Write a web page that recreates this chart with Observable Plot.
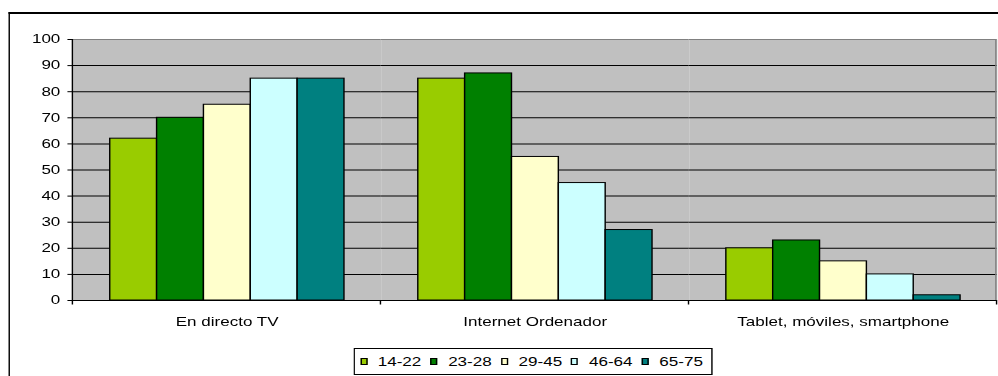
<!DOCTYPE html>
<html lang="es">
<head>
<meta charset="utf-8">
<script src="https://cdn.jsdelivr.net/npm/d3@7"></script>
<script src="https://cdn.jsdelivr.net/npm/@observablehq/plot@0.6"></script>
<style>
  html, body { margin: 0; padding: 0; background: #fff; overflow: hidden; }
  /* the whole chart is laid out narrow and widened horizontally */
  #stage {
    position: relative; width: 703px; height: 376px;
    transform: scaleX(1.4196); transform-origin: 0 0;
    font-family: "Liberation Sans", Arial, sans-serif;
  }
  #outer {
    position: absolute; left: 6.3px; top: 12px; width: 760px; height: 420px;
    border-left: 1.4px solid #000; border-top: 2px solid #000;
  }
  #chart { position: absolute; left: 0; top: 0; }
  #legend {
    position: absolute; left: 249.4px; top: 348px; height: 27px; box-sizing: border-box;
    border: 1px solid #000; background: #fff; display: flex; align-items: center;
    padding: 0 6px 0 3.2px; font-size: 12px; color: #000;
  }
  .item { display: flex; align-items: center; }
  .swatch { width: 5px; height: 7px; box-sizing: border-box; border: 1px solid #000; margin-right: 7.5px; }
  .label { margin-right: 6.4px; }
  .item:last-child .label { margin-right: 0; }
</style>
</head>
<body>
<div id="stage">
  <div id="outer"></div>
  <div id="chart"></div>
  <div id="legend"></div>
</div>
<script>
const categories = ["En directo TV", "Internet Ordenador", "Tablet, móviles, smartphone"];
const ageGroups = ["14-22", "23-28", "29-45", "46-64", "65-75"];
const tvValues = [62, 70, 75, 85, 85];
const internetValues = [85, 87, 55, 45, 27];
const tabletValues = [20, 23, 15, 10, 2];
const ageColors = ["#99CC00", "#008000", "#FFFFCC", "#CCFFFF", "#008080"];
const yTicks = [0, 10, 20, 30, 40, 50, 60, 70, 80, 90, 100];

const valuesByCategory = [tvValues, internetValues, tabletValues];
const rows = categories.flatMap((category, i) =>
  ageGroups.map((age, j) => ({category, age, value: valuesByCategory[i][j]}))
);

const chart = Plot.plot({
  width: 703,
  height: 376,
  marginLeft: 50.7,
  marginRight: 0.7,
  marginTop: 39,
  marginBottom: 76,
  style: {background: "none", fontFamily: "'Liberation Sans', Arial, sans-serif", fontSize: "12px", color: "#000", overflow: "visible"},
  fx: {domain: categories, padding: 0, axis: "bottom", tickSize: 0, tickPadding: 17, label: null},
  x: {domain: ageGroups, paddingInner: 0, paddingOuter: 0.75, axis: null},
  y: {domain: [0, 100], ticks: yTicks, tickSize: 3.5, tickPadding: 5.5, label: null, tickFormat: d3.format("d")},
  color: {domain: ageGroups, range: ageColors},
  marks: [
    Plot.frame({fill: "#C0C0C0", stroke: "none"}),
    Plot.ruleY(yTicks.filter(t => t > 0 && t < 100), {stroke: "#000", strokeWidth: 1}),
    Plot.ruleY([100], {stroke: "#808080", strokeWidth: 1}),
    Plot.barY(rows, {fx: "category", x: "age", y: "value", fill: "age", stroke: "#000", strokeWidth: 1}),
    Plot.ruleY([0], {stroke: "#000", strokeWidth: 1})
  ]
});
document.getElementById("chart").appendChild(chart);

// axis line, right border and category separators, placed from the plot's scales
const fx = chart.scale("fx");
const y = chart.scale("y");
const y0 = y.apply(0), yTop = y.apply(100);
const edges = [...fx.domain.map(c => fx.apply(c)), fx.apply(fx.domain[fx.domain.length - 1]) + fx.bandwidth];
const g = d3.select(chart).append("g");
g.append("line")
  .attr("x1", edges[edges.length - 1] - 0.5).attr("x2", edges[edges.length - 1] - 0.5)
  .attr("y1", yTop).attr("y2", y0).attr("stroke", "#808080");
g.selectAll("line.sep").data(edges.slice(1)).join("line").attr("class", "sep")
  .attr("x1", d => d).attr("x2", d => d)
  .attr("y1", y0).attr("y2", y0 + 4.5).attr("stroke", "#000");
g.append("line")
  .attr("x1", edges[0]).attr("x2", edges[0])
  .attr("y1", yTop).attr("y2", y0 + 4.5).attr("stroke", "#000");

// legend
const legend = d3.select("#legend");
ageGroups.forEach((age, i) => {
  const item = legend.append("div").attr("class", "item");
  item.append("div").attr("class", "swatch").style("background", ageColors[i]);
  item.append("span").attr("class", "label").text(age);
});
</script>
</body>
</html>
